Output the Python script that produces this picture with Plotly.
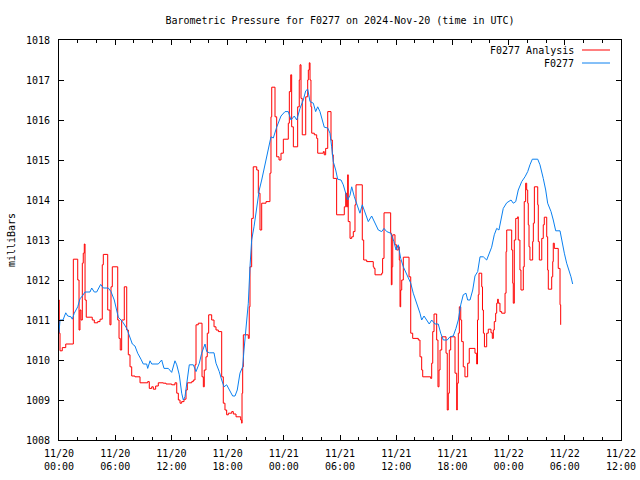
import pandas as pd
import plotly.graph_objects as go

# ---- data (hours since 2024-11-20 00:00 UTC, pressure in mb) ----
analysis_hours = [0.00, 0.03, 0.11, 0.35, 0.72, 1.53, 2.00, 2.14, 2.24, 2.35, 2.49, 2.59, 2.70, 2.78,
                  2.91, 3.55, 3.77, 4.13, 4.38, 4.62, 4.73, 5.20, 5.44, 5.55, 5.69, 6.27, 6.41, 6.54,
                  6.69, 6.97, 7.23, 7.40, 7.58, 7.76, 8.11, 8.65, 9.47, 9.64, 9.90, 10.07, 10.32,
                  10.60, 11.13, 11.42, 12.03, 12.38, 12.57, 12.74, 12.92, 13.10, 13.35, 13.56, 13.70,
                  14.17, 14.34, 14.52, 14.63, 14.87, 15.27, 15.41, 15.51, 15.69, 15.83, 15.98, 16.30,
                  16.55, 16.76, 17.01, 17.37, 17.54, 17.72, 17.90, 18.08, 18.44, 18.61, 18.90, 19.40,
                  19.51, 19.54, 19.61, 19.68, 20.21, 20.31, 20.39, 20.57, 20.74, 21.11, 21.28, 21.46,
                  21.64, 22.10, 22.52, 22.63, 22.71, 23.06, 23.24, 23.49, 23.70, 23.95, 24.48, 24.59,
                  24.74, 24.84, 25.02, 25.48, 25.65, 25.73, 25.84, 25.97, 26.34, 26.55, 26.62, 26.72,
                  26.80, 26.90, 26.98, 27.26, 27.51, 27.62, 28.22, 28.32, 28.47, 28.69, 29.04, 29.18,
                  29.28, 29.64, 30.46, 30.61, 30.71, 30.82, 30.88, 31.07, 31.25, 31.42, 31.60, 31.71,
                  32.38, 32.53, 32.85, 33.55, 33.63, 33.74, 34.45, 34.55, 34.70, 35.41, 35.48, 35.55,
                  35.63, 35.87, 36.05, 36.22, 36.33, 36.41, 36.48, 36.59, 36.76, 37.37, 37.55, 37.76,
                  38.36, 38.54, 38.72, 38.83, 39.68, 39.79, 39.90, 40.04, 40.32, 40.46, 40.57, 40.68,
                  40.86, 41.32, 41.45, 41.56, 41.67, 41.82, 42.28, 42.46, 42.52, 42.63, 42.74, 42.89,
                  42.99, 43.16, 43.34, 43.63, 43.80, 44.41, 44.59, 44.68, 44.76, 44.84, 45.13, 45.21,
                  45.31, 45.42, 45.66, 45.83, 46.12, 46.26, 46.37, 46.47, 46.62, 46.73, 46.83, 46.90,
                  47.08, 47.26, 47.62, 47.73, 47.80, 48.33, 48.44, 48.50, 48.61, 48.76, 48.97, 49.03,
                  49.21, 49.32, 49.57, 49.67, 49.82, 49.93, 50.04, 50.10, 50.18, 50.28, 50.57, 50.64,
                  50.75, 51.11, 51.17, 51.28, 51.54, 51.70, 51.81, 52.07, 52.17, 52.24, 52.60, 52.71,
                  52.77, 52.88, 53.30, 53.49, 53.56]
analysis_mb = [1011.50, 1010.67, 1010.23, 1010.31, 1010.40, 1012.52, 1012.00, 1010.75, 1011.25, 1011.00,
               1012.42, 1012.67, 1012.90, 1011.50, 1011.07, 1011.00, 1010.93, 1010.96, 1011.02, 1012.38,
               1012.64, 1011.25, 1010.88, 1011.83, 1012.33, 1011.00, 1010.54, 1010.25, 1011.00, 1011.83,
               1010.75, 1010.13, 1009.83, 1009.60, 1009.58, 1009.43, 1009.46, 1009.29, 1009.33, 1009.27,
               1009.35, 1009.43, 1009.42, 1009.40, 1009.38, 1009.43, 1009.17, 1009.00, 1008.92, 1008.96,
               1009.02, 1009.25, 1009.43, 1009.46, 1009.50, 1009.88, 1010.88, 1010.92, 1009.58, 1009.33,
               1009.75, 1010.08, 1010.67, 1011.13, 1011.00, 1010.83, 1010.75, 1010.71, 1009.58, 1008.92,
               1008.75, 1008.63, 1008.67, 1008.71, 1008.65, 1008.58, 1008.50, 1008.42, 1009.17, 1009.83,
               1010.63, 1010.54, 1011.33, 1012.33, 1013.54, 1014.83, 1014.75, 1014.17, 1013.25, 1013.92,
               1013.96, 1014.67, 1016.08, 1016.82, 1016.08, 1015.08, 1015.00, 1015.17, 1015.52, 1015.92,
               1016.71, 1017.13, 1015.83, 1015.33, 1016.33, 1017.00, 1017.38, 1016.54, 1015.63, 1016.58,
               1017.00, 1017.25, 1017.43, 1017.00, 1016.33, 1015.67, 1015.63, 1015.54, 1015.17, 1015.21,
               1015.13, 1015.29, 1016.21, 1015.50, 1015.13, 1014.54, 1013.63, 1013.83, 1014.17, 1013.83,
               1014.63, 1013.46, 1013.04, 1013.08, 1013.21, 1013.88, 1014.38, 1013.00, 1012.50, 1012.46,
               1012.33, 1012.29, 1012.13, 1012.17, 1012.54, 1013.68, 1013.17, 1011.88, 1012.33, 1013.13,
               1012.88, 1012.75, 1012.83, 1012.50, 1011.33, 1011.75, 1012.00, 1012.57, 1012.08, 1010.67,
               1010.54, 1010.50, 1010.08, 1009.75, 1009.58, 1009.54, 1009.92, 1010.71, 1011.15, 1010.50,
               1009.33, 1009.75, 1010.25, 1010.58, 1010.17, 1008.75, 1009.17, 1010.25, 1010.58, 1009.67,
               1008.75, 1009.42, 1010.67, 1011.33, 1011.00, 1010.46, 1009.83, 1009.58, 1009.92, 1010.29,
               1010.17, 1009.90, 1011.00, 1011.63, 1012.17, 1011.83, 1011.25, 1010.67, 1010.33, 1010.67,
               1010.77, 1010.68, 1010.54, 1010.75, 1010.96, 1011.17, 1011.42, 1011.52, 1011.42, 1011.21,
               1011.17, 1011.67, 1012.71, 1013.25, 1012.75, 1011.92, 1011.42, 1013.00, 1013.54, 1013.58,
               1013.00, 1012.25, 1011.75, 1012.33, 1013.96, 1014.42, 1014.25, 1013.92, 1013.38, 1012.83,
               1012.50, 1012.96, 1013.42, 1014.33, 1013.88, 1012.96, 1012.50, 1013.04, 1013.38, 1013.57,
               1013.08, 1012.25, 1011.77, 1012.08, 1012.46, 1012.92, 1012.79, 1012.29, 1011.38, 1010.88]

station_hours = [0.00, 0.11, 0.43, 0.72, 0.93, 1.28, 1.42, 1.63, 2.00, 2.24, 2.49, 2.78, 3.31, 3.49,
                 3.77, 4.02, 4.45, 4.73, 5.26, 5.55, 5.90, 6.16, 6.33, 6.62, 6.86, 7.23, 7.58, 7.83,
                 8.11, 8.40, 8.75, 9.00, 9.36, 9.47, 9.72, 9.90, 10.60, 10.96, 11.21, 11.67, 12.03,
                 12.38, 12.57, 12.84, 13.10, 13.27, 13.45, 13.70, 13.91, 14.34, 14.63, 14.98, 15.23,
                 15.59, 15.77, 16.05, 16.55, 16.76, 17.11, 17.37, 17.62, 17.90, 18.18, 18.54, 18.79,
                 19.03, 19.32, 19.61, 19.75, 19.96, 20.21, 20.39, 20.57, 20.82, 21.11, 21.38, 21.64,
                 21.99, 22.34, 22.63, 22.88, 23.24, 23.70, 24.13, 24.48, 24.77, 25.12, 25.38, 25.73,
                 26.08, 26.34, 26.55, 26.80, 27.15, 27.40, 27.62, 27.86, 28.11, 28.32, 28.69, 28.93,
                 29.11, 29.28, 29.54, 29.75, 30.11, 30.35, 30.61, 30.82, 31.07, 31.25, 31.53, 31.78,
                 32.13, 32.38, 32.67, 33.02, 33.38, 33.66, 34.09, 34.45, 34.70, 34.99, 35.41, 35.76,
                 35.98, 36.22, 36.48, 36.76, 37.05, 37.29, 37.55, 37.82, 38.19, 38.54, 38.72, 38.97,
                 39.25, 39.53, 39.79, 40.14, 40.49, 40.75, 41.03, 41.45, 41.74, 42.09, 42.38, 42.63,
                 42.89, 43.16, 43.45, 43.63, 43.88, 44.17, 44.41, 44.70, 44.95, 45.30, 45.66, 45.91,
                 46.19, 46.47, 46.73, 46.97, 47.19, 47.43, 47.80, 48.26, 48.50, 48.76, 49.03, 49.40,
                 49.75, 50.04, 50.28, 50.53, 51.11, 51.35, 51.70, 51.96, 52.17, 52.53, 52.77, 53.03,
                 53.49, 53.73, 53.95, 54.20, 54.45, 54.66, 54.84]
station_mb = [1010.68, 1011.00, 1011.00, 1011.18, 1011.10, 1011.08, 1011.02, 1011.17, 1011.33, 1011.53,
              1011.60, 1011.70, 1011.70, 1011.80, 1011.70, 1011.70, 1011.89, 1011.80, 1011.80, 1011.71,
              1011.50, 1011.25, 1011.07, 1011.00, 1010.93, 1010.79, 1010.58, 1010.40, 1010.35, 1010.17,
              1010.02, 1009.90, 1009.90, 1009.79, 1009.98, 1009.90, 1009.90, 1010.00, 1009.79, 1009.79,
              1009.69, 1009.98, 1009.88, 1009.63, 1009.17, 1009.00, 1009.08, 1009.50, 1009.88, 1009.88,
              1009.71, 1009.92, 1010.17, 1010.40, 1010.21, 1010.18, 1010.18, 1009.92, 1009.71, 1009.50,
              1009.33, 1009.38, 1009.25, 1009.10, 1009.10, 1009.25, 1009.67, 1009.83, 1010.25, 1010.83,
              1011.42, 1012.33, 1013.00, 1013.33, 1013.75, 1014.25, 1014.50, 1014.88, 1015.20, 1015.58,
              1015.55, 1015.82, 1016.10, 1016.21, 1016.21, 1016.00, 1016.10, 1016.00, 1016.29, 1016.50,
              1016.73, 1016.77, 1016.46, 1016.42, 1016.21, 1016.33, 1016.21, 1016.00, 1015.82, 1015.80,
              1015.67, 1015.33, 1014.96, 1014.75, 1014.52, 1014.50, 1014.38, 1014.17, 1014.00, 1014.12,
              1014.33, 1014.08, 1013.92, 1013.67, 1013.88, 1013.67, 1013.46, 1013.60, 1013.46, 1013.25,
              1013.21, 1013.29, 1013.21, 1013.17, 1012.96, 1012.75, 1012.88, 1012.54, 1012.33, 1012.17,
              1012.08, 1011.92, 1011.67, 1011.42, 1011.17, 1011.00, 1011.10, 1011.00, 1010.90, 1011.00,
              1010.90, 1010.90, 1010.67, 1010.50, 1010.50, 1010.58, 1010.60, 1010.79, 1011.00, 1011.38,
              1011.63, 1011.67, 1011.50, 1011.50, 1011.75, 1012.10, 1012.21, 1012.58, 1012.58, 1012.50,
              1012.63, 1012.82, 1013.13, 1013.29, 1013.25, 1013.52, 1013.79, 1013.93, 1014.00, 1013.92,
              1013.96, 1014.25, 1014.46, 1014.58, 1014.71, 1014.88, 1015.02, 1015.02, 1014.88, 1014.54,
              1014.25, 1013.92, 1013.71, 1013.50, 1013.23, 1013.23, 1012.92, 1012.67, 1012.42, 1012.25,
              1012.08, 1011.90]

tick_times = ["2024-11-20 00:00", "2024-11-20 06:00", "2024-11-20 12:00", "2024-11-20 18:00",
              "2024-11-21 00:00", "2024-11-21 06:00", "2024-11-21 12:00", "2024-11-21 18:00",
              "2024-11-22 00:00", "2024-11-22 06:00", "2024-11-22 12:00"]
tick_labels = ["11/20<br>00:00", "11/20<br>06:00", "11/20<br>12:00", "11/20<br>18:00",
               "11/21<br>00:00", "11/21<br>06:00", "11/21<br>12:00", "11/21<br>18:00",
               "11/22<br>00:00", "11/22<br>06:00", "11/22<br>12:00"]
y_ticks = [1008, 1009, 1010, 1011, 1012, 1013, 1014, 1015, 1016, 1017, 1018]

base = pd.Timestamp("2024-11-20 00:00")
t_analysis = base + pd.to_timedelta(analysis_hours, unit="h")
t_station = base + pd.to_timedelta(station_hours, unit="h")

RED = "#ff0000"
BLUE = "#0a80f0"
FONT = "DejaVu Sans Mono"

fig = go.Figure()
fig.add_trace(go.Scatter(x=t_analysis, y=analysis_mb, mode="lines", name="F0277 Analysis",
                         line=dict(color=RED, width=1, shape="hv")))
fig.add_trace(go.Scatter(x=t_station, y=station_mb, mode="lines", name="F0277",
                         line=dict(color=BLUE, width=1)))

axis_common = dict(showline=True, linecolor="black", linewidth=1, mirror="allticks",
                   ticks="inside", tickcolor="black", tickwidth=1, showgrid=False, zeroline=False,
                   automargin=False,
                   tickfont=dict(family=FONT, size=10, color="black"))

fig.update_layout(
    width=640, height=480,
    margin=dict(l=59, r=19, t=40, b=40),
    paper_bgcolor="white", plot_bgcolor="white",
    showlegend=False,
    font=dict(family=FONT, size=10, color="black"),
    title=dict(text="Barometric Pressure for F0277 on 2024-Nov-20 (time in UTC)",
               xref="container", yref="container", automargin=False,
               x=340 / 640, xanchor="center", y=1 - 20 / 480, yanchor="middle",
               font=dict(family=FONT, size=10, color="black")),
    xaxis=dict(range=["2024-11-20 00:00", "2024-11-22 12:00"],
               tickvals=tick_times, ticktext=tick_labels, ticklen=5,
               minor=dict(dtick=2 * 3600 * 1000, ticks="inside", ticklen=3, tickcolor="black"),
               ticklabelstandoff=4,
               **axis_common),
    yaxis=dict(range=[1008, 1018], tickvals=y_ticks, ticktext=[str(v) for v in y_ticks],
               ticklen=5, ticklabelstandoff=6,
               title=dict(text="milliBars", font=dict(family=FONT, size=10, color="black"),
                          standoff=8),
               **axis_common),
)

# gnuplot-style key: text then sample line on the right
legend_rows = [("F0277 Analysis", RED, 1 - 10 / 400), ("F0277", BLUE, 1 - 23 / 400)]
for label, col, yy in legend_rows:
    fig.add_annotation(text=label, xref="paper", yref="paper", x=(576 - 59) / 562, y=yy,
                       xanchor="right", yanchor="middle", showarrow=False,
                       font=dict(family=FONT, size=10, color="black"))
    fig.add_shape(type="line", xref="paper", yref="paper", x0=(582 - 59) / 562, x1=(610 - 59) / 562,
                  y0=yy, y1=yy, line=dict(color=col, width=1))

fig.write_html("out.html",
               config={"displayModeBar": False, "staticPlot": True},
               post_script="document.body.style.margin='0';document.body.style.overflow='hidden';")
